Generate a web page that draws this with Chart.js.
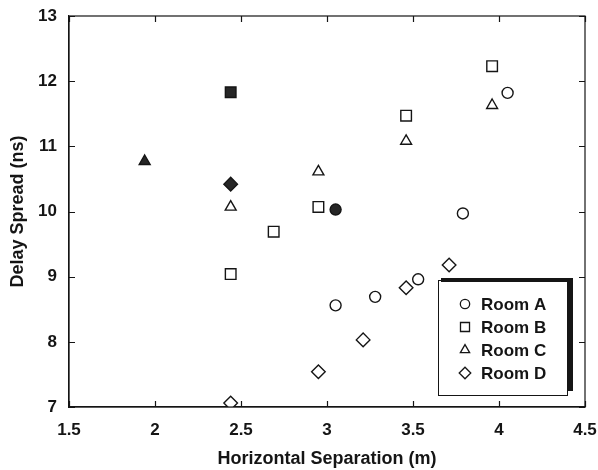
<!DOCTYPE html>
<html>
<head>
<meta charset="utf-8">
<script src="https://cdn.jsdelivr.net/npm/chart.js@4/dist/chart.umd.min.js"></script>
<style>
  body { margin: 0; background: #fff; }
  canvas { display: block; }
</style>
</head>
<body>
<canvas id="myChart" width="598" height="470"></canvas>
<script>
// values
const roomAX = [3.05, 3.28, 3.53, 3.79, 4.05];
const roomAY = [8.56, 8.69, 8.96, 9.97, 11.82];
const roomBX = [2.44, 2.69, 2.95, 3.46, 3.96];
const roomBY = [9.04, 9.69, 10.07, 11.47, 12.23];
const roomCX = [2.44, 2.95, 3.46, 3.96];
const roomCY = [10.07, 10.61, 11.08, 11.63];
const roomDX = [2.44, 2.95, 3.21, 3.46, 3.71];
const roomDY = [7.06, 7.54, 8.03, 8.83, 9.18];

// the solid (filled) markers
const solidAX = [3.05];
const solidAY = [10.03];
const solidBX = [2.44];
const solidBY = [11.83];
const solidCX = [1.94];
const solidCY = [10.77];
const solidDX = [2.44];
const solidDY = [10.42];

const roomNames = ['Room A', 'Room B', 'Room C', 'Room D'];
const xTicks = [1.5, 2, 2.5, 3, 3.5, 4, 4.5];
const yTicks = [7, 8, 9, 10, 11, 12, 13];

const ink = '#151515';
const shapes = ['circle', 'rect', 'triangle', 'rectRot'];
const radii = [5.5, 7.5, 6.3, 6.8];
const fam = '"Liberation Sans", Arial, sans-serif';

function pts(xs, ys) {
  return xs.map((x, i) => ({ x: x, y: ys[i] }));
}

function ds(xs, ys, k, solid) {
  return {
    label: solid ? roomNames[k] + ' solid' : roomNames[k],
    data: pts(xs, ys),
    pointStyle: shapes[k],
    pointRadius: radii[k],
    borderColor: ink,
    backgroundColor: solid ? '#262626' : '#fff',
    borderWidth: 1.4,
    showLine: false
  };
}

// inward tick marks, frame and the boxed legend
const framePlugin = {
  id: 'frame',
  afterDraw(chart) {
    const ctx = chart.ctx;
    const a = chart.chartArea;
    const xs = chart.scales.x;
    const ys = chart.scales.y;
    ctx.save();
    ctx.strokeStyle = ink;
    ctx.lineWidth = 1.2;
    ctx.strokeRect(a.left, a.top, a.right - a.left, a.bottom - a.top);
    ctx.beginPath();
    xTicks.forEach(v => {
      const px = Math.round(xs.getPixelForValue(v)) + 0.5;
      ctx.moveTo(px, a.bottom); ctx.lineTo(px, a.bottom - 6);
      ctx.moveTo(px, a.top); ctx.lineTo(px, a.top + 6);
    });
    yTicks.forEach(v => {
      const py = Math.round(ys.getPixelForValue(v)) + 0.5;
      ctx.moveTo(a.left, py); ctx.lineTo(a.left + 6, py);
      ctx.moveTo(a.right, py); ctx.lineTo(a.right - 6, py);
    });
    ctx.stroke();

    // legend box with a heavy shadow on the top and right
    const L = 438, T = 280, R = 567, B = 395;
    ctx.fillStyle = '#fff';
    ctx.fillRect(L, T, R - L, B - T);
    ctx.fillStyle = ink;
    ctx.fillRect(L + 3, T - 2, R - L + 3, 4);
    ctx.fillRect(R, T - 2, 6, B - T - 2);
    ctx.lineWidth = 1;
    ctx.strokeRect(L + 0.5, T + 0.5, R - L, B - T);

    const rowY = [304, 327, 350, 373];
    ctx.font = 'bold 17px ' + fam;
    ctx.textBaseline = 'middle';
    ctx.textAlign = 'left';
    roomNames.forEach((name, k) => {
      ctx.strokeStyle = ink;
      ctx.fillStyle = '#fff';
      ctx.lineWidth = 1.3;
      Chart.helpers.drawPoint(ctx, {
        pointStyle: shapes[k],
        radius: radii[k] * 0.85,
        borderWidth: 1.3
      }, 465, rowY[k]);
      ctx.fillStyle = ink;
      ctx.fillText(name, 481, rowY[k] + 1);
    });
    ctx.restore();
  }
};

const ctx1 = document.getElementById('myChart').getContext('2d');
const chart1 = new Chart(ctx1, {
  type: 'scatter',
  data: {
    datasets: [
      ds(roomAX, roomAY, 0, false),
      ds(roomBX, roomBY, 1, false),
      ds(roomCX, roomCY, 2, false),
      ds(roomDX, roomDY, 3, false),
      ds(solidAX, solidAY, 0, true),
      ds(solidBX, solidBY, 1, true),
      ds(solidCX, solidCY, 2, true),
      ds(solidDX, solidDY, 3, true)
    ]
  },
  options: {
    responsive: false,
    animation: false,
    devicePixelRatio: 1,
    layout: { padding: { top: 16, right: 13, left: 0, bottom: 0 } },
    plugins: {
      legend: { display: false },
      tooltip: { enabled: false }
    },
    scales: {
      x: {
        type: 'linear',
        min: 1.5,
        max: 4.5,
        afterBuildTicks: s => { s.ticks = xTicks.map(v => ({ value: v })); },
        afterFit: s => {
          s.height = 63;
          s.paddingLeft = 0;
          s.paddingRight = 0;
        },
        grid: { drawOnChartArea: false, drawTicks: false },
        border: { display: true, color: ink, width: 1.2 },
        ticks: {
          color: ink,
          font: { family: fam, size: 17, weight: 'bold' },
          padding: 13,
          maxRotation: 0,
          autoSkip: false,
          callback: v => String(v)
        },
        title: {
          display: true,
          text: 'Horizontal Separation (m)',
          color: ink,
          font: { family: fam, size: 18, weight: 'bold' },
          padding: { top: 0, bottom: 0 }
        }
      },
      y: {
        type: 'linear',
        min: 7,
        max: 13,
        afterBuildTicks: s => { s.ticks = yTicks.map(v => ({ value: v })); },
        afterFit: s => {
          s.width = 69;
          s.paddingTop = 0;
          s.paddingBottom = 0;
        },
        grid: { drawOnChartArea: false, drawTicks: false },
        border: { display: true, color: ink, width: 1.2 },
        ticks: {
          color: ink,
          font: { family: fam, size: 17, weight: 'bold' },
          padding: 12,
          autoSkip: false,
          callback: v => String(v)
        },
        title: {
          display: true,
          text: 'Delay Spread (ns)',
          color: ink,
          font: { family: fam, size: 18, weight: 'bold' },
          padding: { top: 7, bottom: 0 }
        }
      }
    }
  },
  plugins: [framePlugin]
});
</script>
</body>
</html>
